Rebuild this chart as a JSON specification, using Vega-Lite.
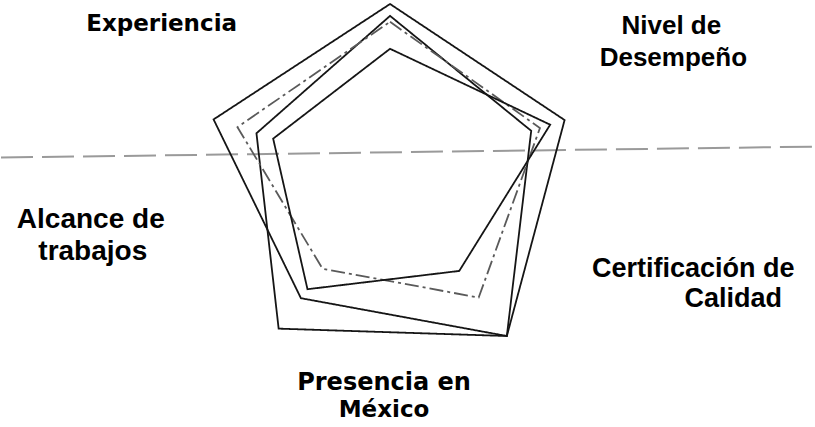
{
  "$schema": "https://vega.github.io/schema/vega-lite/v6.json",
  "width": 815,
  "height": 427,
  "autosize": {"type": "fit", "contains": "padding"},
  "padding": 0,
  "background": "white",
  "config": {"view": {"stroke": null}},
  "layer": [
    {
      "data": {"values": [{}]},
      "mark": {"type": "rule", "color": "#9a9a9a", "strokeWidth": 2, "strokeDash": [32, 9]},
      "encoding": {
        "x": {"datum": -9.75, "type": "quantitative", "scale": {"domain": [-9.75, 10.625], "nice": false, "zero": false}, "axis": null},
        "y": {"datum": 0.475, "type": "quantitative", "scale": {"domain": [-6.325, 4.35], "nice": false, "zero": false}, "axis": null},
        "x2": {"datum": 10.625},
        "y2": {"datum": 0.75}
      }
    },
    {
      "data": {
        "values": [
          {"serie": "Serie 1", "eje": "Experiencia", "k": 0, "valor": 4.35},
          {"serie": "Serie 1", "eje": "Nivel de Desempeño", "k": 1, "valor": 4.6},
          {"serie": "Serie 1", "eje": "Certificación de Calidad", "k": 2, "valor": 4.98},
          {"serie": "Serie 1", "eje": "Presencia en México", "k": 3, "valor": 3.8},
          {"serie": "Serie 1", "eje": "Alcance de trabajos", "k": 4, "valor": 4.65},
          {"serie": "Serie 2", "eje": "Experiencia", "k": 0, "valor": 4.05},
          {"serie": "Serie 2", "eje": "Nivel de Desempeño", "k": 1, "valor": 3.72},
          {"serie": "Serie 2", "eje": "Certificación de Calidad", "k": 2, "valor": 4.98},
          {"serie": "Serie 2", "eje": "Presencia en México", "k": 3, "valor": 4.75},
          {"serie": "Serie 2", "eje": "Alcance de trabajos", "k": 4, "valor": 3.52},
          {"serie": "Serie 3", "eje": "Experiencia", "k": 0, "valor": 3.9},
          {"serie": "Serie 3", "eje": "Nivel de Desempeño", "k": 1, "valor": 3.95},
          {"serie": "Serie 3", "eje": "Certificación de Calidad", "k": 2, "valor": 3.78},
          {"serie": "Serie 3", "eje": "Presencia en México", "k": 3, "valor": 2.88},
          {"serie": "Serie 3", "eje": "Alcance de trabajos", "k": 4, "valor": 4.02},
          {"serie": "Serie 4", "eje": "Experiencia", "k": 0, "valor": 3.22},
          {"serie": "Serie 4", "eje": "Nivel de Desempeño", "k": 1, "valor": 4.22},
          {"serie": "Serie 4", "eje": "Certificación de Calidad", "k": 2, "valor": 2.95},
          {"serie": "Serie 4", "eje": "Presencia en México", "k": 3, "valor": 3.52},
          {"serie": "Serie 4", "eje": "Alcance de trabajos", "k": 4, "valor": 3.08}
        ]
      },
      "transform": [
        {"calculate": "PI / 2 - datum.k * 2 * PI / 5", "as": "ang"},
        {"calculate": "datum.valor * cos(datum.ang)", "as": "px"},
        {"calculate": "datum.valor * sin(datum.ang)", "as": "py"}
      ],
      "mark": {"type": "line", "interpolate": "linear-closed"},
      "encoding": {
        "x": {"field": "px", "type": "quantitative"},
        "y": {"field": "py", "type": "quantitative"},
        "detail": {"field": "serie"},
        "order": {"field": "k", "type": "quantitative"},
        "color": {"field": "serie", "type": "nominal", "scale": {"domain": ["Serie 1", "Serie 2", "Serie 3", "Serie 4"], "range": ["#151515", "#151515", "#5a5a5a", "#151515"]}, "legend": null},
        "strokeWidth": {"field": "serie", "type": "nominal", "scale": {"domain": ["Serie 1", "Serie 2", "Serie 3", "Serie 4"], "range": [1.8, 1.8, 1.1, 1.8]}, "legend": null},
        "strokeDash": {"field": "serie", "type": "nominal", "scale": {"domain": ["Serie 1", "Serie 2", "Serie 3", "Serie 4"], "range": [[1, 0], [1, 0], [14, 4, 3, 4], [1, 0]]}, "legend": null}
      }
    },
    {
      "data": {"values": [{}]},
      "mark": {"type": "text", "font": "DejaVu Sans", "fontWeight": "bold", "fontSize": 23, "align": "center", "baseline": "middle", "color": "#000"},
      "encoding": {"x": {"datum": -5.725}, "y": {"datum": 3.85}, "text": {"value": "Experiencia"}}
    },
    {
      "data": {"values": [{}]},
      "mark": {"type": "text", "font": "Liberation Sans", "fontWeight": "bold", "fontSize": 26, "align": "center", "baseline": "middle", "color": "#000"},
      "encoding": {"x": {"datum": 7.05}, "y": {"datum": 3.8}, "text": {"value": "Nivel de"}}
    },
    {
      "data": {"values": [{}]},
      "mark": {"type": "text", "font": "Liberation Sans", "fontWeight": "bold", "fontSize": 26, "align": "center", "baseline": "middle", "color": "#000"},
      "encoding": {"x": {"datum": 7.1}, "y": {"datum": 2.975}, "text": {"value": "Desempeño"}}
    },
    {
      "data": {"values": [{}]},
      "mark": {"type": "text", "font": "Liberation Sans", "fontWeight": "bold", "fontSize": 27, "align": "center", "baseline": "middle", "color": "#000"},
      "encoding": {"x": {"datum": 7.6}, "y": {"datum": -2.35}, "text": {"value": "Certificación de"}}
    },
    {
      "data": {"values": [{}]},
      "mark": {"type": "text", "font": "Liberation Sans", "fontWeight": "bold", "fontSize": 27, "align": "center", "baseline": "middle", "color": "#000"},
      "encoding": {"x": {"datum": 8.6}, "y": {"datum": -3.1}, "text": {"value": "Calidad"}}
    },
    {
      "data": {"values": [{}]},
      "mark": {"type": "text", "font": "DejaVu Sans", "fontWeight": "bold", "fontSize": 24, "align": "center", "baseline": "middle", "color": "#000"},
      "encoding": {"x": {"datum": -0.15}, "y": {"datum": -5.225}, "text": {"value": "Presencia en"}}
    },
    {
      "data": {"values": [{}]},
      "mark": {"type": "text", "font": "DejaVu Sans", "fontWeight": "bold", "fontSize": 23, "align": "center", "baseline": "middle", "color": "#000"},
      "encoding": {"x": {"datum": -0.15}, "y": {"datum": -5.9}, "text": {"value": "México"}}
    },
    {
      "data": {"values": [{}]},
      "mark": {"type": "text", "font": "Liberation Sans", "fontWeight": "bold", "fontSize": 28, "align": "center", "baseline": "middle", "color": "#000"},
      "encoding": {"x": {"datum": -7.5}, "y": {"datum": -1.1}, "text": {"value": "Alcance de"}}
    },
    {
      "data": {"values": [{}]},
      "mark": {"type": "text", "font": "Liberation Sans", "fontWeight": "bold", "fontSize": 28, "align": "center", "baseline": "middle", "color": "#000"},
      "encoding": {"x": {"datum": -7.45}, "y": {"datum": -1.9}, "text": {"value": "trabajos"}}
    }
  ]
}
